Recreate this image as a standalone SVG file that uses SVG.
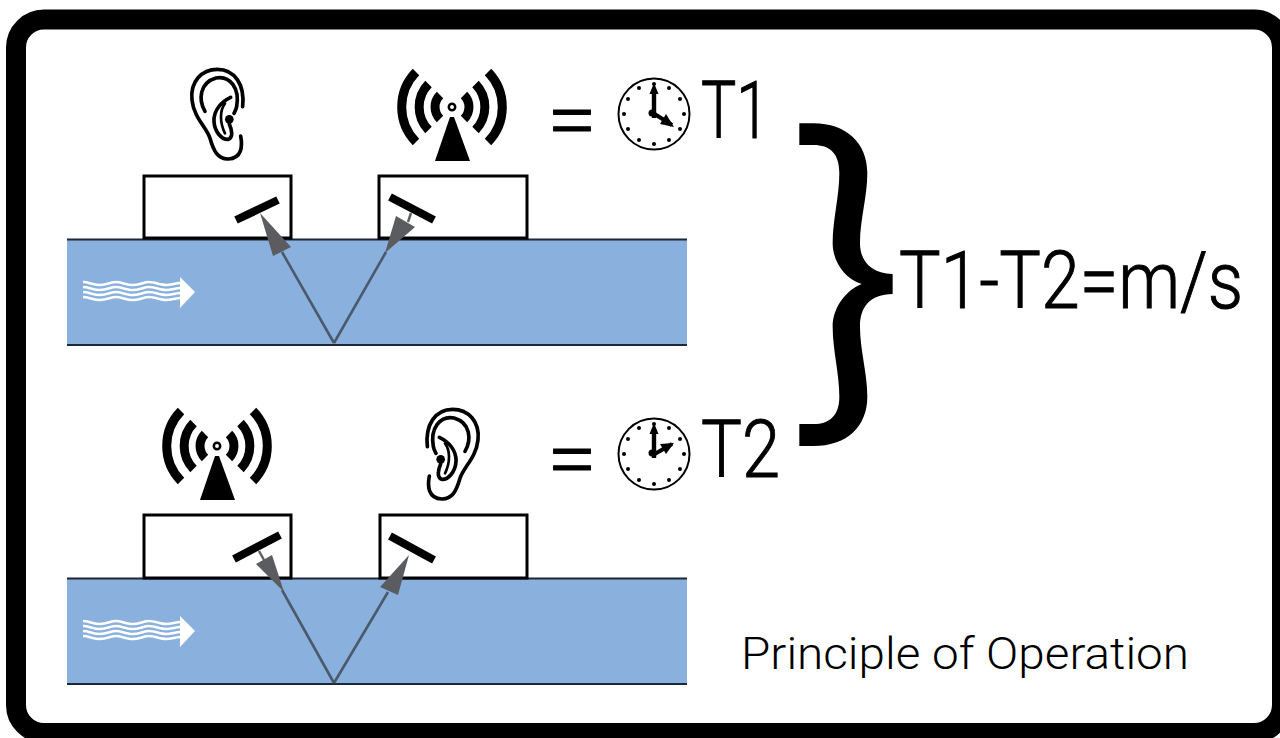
<svg xmlns="http://www.w3.org/2000/svg" width="1280" height="738" viewBox="0 0 1280 738">
<style>
.t{font-family:"Roboto","Liberation Sans",sans-serif;font-weight:300;fill:#000}
.big{stroke:#000;stroke-width:1}
.water{fill:#8ab1de}
.edge{stroke:#1d2735;stroke-width:2;fill:none}
.box{fill:#fff;stroke:#000;stroke-width:3}
.bar{stroke:#000;stroke-width:8;fill:none}
.shaft{stroke:#4a5a6c;stroke-width:2.600;fill:none}
.thin{stroke:#5d6064;stroke-width:2.500;fill:none}
.head{fill:#5a5c60}
</style>
<defs>
<g id="ear" fill="none" stroke="#000" stroke-width="11" stroke-linecap="round">
<path d="M332 258C338 290 335 325 295 327C262 328 250 300 240 265C230 232 192 205 186 150C180 95 215 58 262 58C315 58 345 105 338 170"/>
<path d="M225 184C205 150 208 98 258 84C300 76 330 115 320 170C318 180 314 186 312 190"/>
<path d="M302 142C275 155 250 180 252 215C254 245 275 270 295 268C310 262 306 240 298 222"/>
<path d="M285 160C270 180 268 215 285 250" stroke-width="8"/>
<circle cx="298" cy="208" r="13" fill="#000" stroke="none"/>
</g>
<g id="radio">
<g fill="none" stroke="#000" stroke-width="9">
<path d="M-36 -35A50 50 0 0 0 -36 35M36 -35A50 50 0 0 1 36 35"/>
<path d="M-23.500 -23A33 33 0 0 0 -23.500 23M23.500 -23A33 33 0 0 1 23.500 23"/>
<path d="M-12 -12A17 17 0 0 0 -12 12M12 -12A17 17 0 0 1 12 12"/>
</g>
<circle r="3.200" fill="#fff" stroke="#000" stroke-width="2.500"/>
<polygon points="-2,10 2,10 18,54 -17,54" fill="#000"/>
</g>
<g id="dial">
<circle r="35.500" fill="#fff" stroke="#000" stroke-width="2"/>
<g fill="#000">
<circle cx="0" cy="-30" r="2"/><circle cx="15" cy="-26" r="2"/><circle cx="26" cy="-15" r="2"/><circle cx="30" cy="0" r="2"/><circle cx="26" cy="15" r="2"/><circle cx="15" cy="26" r="2"/><circle cx="0" cy="30" r="2"/><circle cx="-15" cy="26" r="2"/><circle cx="-26" cy="15" r="2"/><circle cx="-30" cy="0" r="2"/><circle cx="-26" cy="-15" r="2"/><circle cx="-15" cy="-26" r="2"/>
<circle cx="-2" cy="-1" r="3.500"/>
<rect x="-2.200" y="-24" width="4.400" height="28"/>
<polygon points="0,-31 -4.500,-20 4.500,-20"/>
</g>
</g>
<g id="flow">
<g fill="none" stroke="#fff" stroke-width="2.600">
<path d="M83 282c6 0 10 3 17 3s11-3 16-3 11 3 17 3 11-3 16-3 12 3 17 3 10-2 14-2"/>
<path d="M83 287c6 0 10 3 17 3s11-3 16-3 11 3 17 3 11-3 16-3 12 3 17 3 10-2 14-2"/>
<path d="M83 292c6 0 10 3 17 3s11-3 16-3 11 3 17 3 11-3 16-3 12 3 17 3 10-2 14-2"/>
<path d="M83 297c6 0 10 3 17 3s11-3 16-3 11 3 17 3 11-3 16-3 12 3 17 3 10-2 14-2"/>
</g>
<polygon points="180,277 195,292 180,308" fill="#fff"/>
</g>
</defs>
<rect width="1280" height="738" fill="#fff"/>
<rect id="frame" x="16" y="19.500" width="1266" height="713.500" rx="28" fill="#fff" stroke="#000" stroke-width="20"/>

<g id="pipe-top">
<rect class="water" x="67" y="240" width="620" height="105"/>
<path class="edge" d="M67 239.500H687M67 345H687"/>
<use href="#flow"/>
</g>
<g id="pipe-bottom">
<rect class="water" x="67" y="579" width="620" height="105"/>
<path class="edge" d="M67 578.500H687M67 684H687"/>
<use href="#flow" y="339"/>
</g>

<g id="sensor-top-left"><rect class="box" x="144" y="176" width="147" height="62"/><path class="bar" d="M236 220L278 200"/></g>
<g id="sensor-top-right"><rect class="box" x="379" y="176" width="148" height="62"/><path class="bar" d="M390 197L434 220"/></g>
<g id="sensor-bottom-left"><rect class="box" x="144" y="515" width="147" height="63"/><path class="bar" d="M234 559L280 535"/></g>
<g id="sensor-bottom-right"><rect class="box" x="380" y="515" width="147" height="63"/><path class="bar" d="M390 536L434 560"/></g>

<g id="connectors">
<path class="shaft" d="M334 343L282 252"/>
<polygon class="head" points="260,213 291,247 273,256"/>
<path class="shaft" d="M334 343L386 252"/>
<polygon class="head" points="385,253 396,216 415,227"/>
<path class="thin" d="M408 222L411 213"/>
<path class="shaft" d="M334 683L282 590"/>
<polygon class="head" points="284,592 256,564 272,555"/>
<path class="thin" d="M264 560L259 551"/>
<path class="shaft" d="M334 683L388 592"/>
<polygon class="head" points="409,555 380,587 398,595"/>
</g>

<g id="ear-top"><use href="#ear" transform="translate(130 50) scale(.3333)"/></g>
<g id="ear-bottom"><use href="#ear" transform="translate(540 390) scale(-.3333 .3333)"/></g>
<g id="transmitter-top"><use href="#radio" x="452" y="107"/></g>
<g id="transmitter-bottom"><use href="#radio" x="217" y="446"/></g>

<g id="time-t1">
<text class="t big" x="547" y="148" font-size="84" textLength="50" lengthAdjust="spacingAndGlyphs">=</text>
<use href="#dial" x="654" y="114"/>
<path d="M653 113L672 125" stroke="#000" stroke-width="4"/>
<polygon points="674,127 660,124 666,114" fill="#000"/>
<text class="t big" x="701" y="138" font-size="80" textLength="68" lengthAdjust="spacingAndGlyphs">T1</text>
</g>
<g id="time-t2">
<text class="t big" x="547" y="487" font-size="84" textLength="50" lengthAdjust="spacingAndGlyphs">=</text>
<use href="#dial" x="654" y="454"/>
<path d="M653 455L672 444" stroke="#000" stroke-width="4"/>
<polygon points="674,443 666,454 660,444" fill="#000"/>
<text class="t big" x="701" y="477" font-size="80" textLength="79" lengthAdjust="spacingAndGlyphs">T2</text>
</g>

<g id="brace"><path transform="translate(780 110) scale(.3333)" fill="#000" d="M58 40H100C200 40 262 100 262 190C262 260 240 330 240 400C240 450 270 490 338 492V552C270 553 240 590 240 650C240 720 262 790 262 860C262 950 200 1008 100 1008H58V942H100C150 942 178 915 178 860C178 790 158 720 158 650C158 600 190 545 245 522C190 505 158 450 158 400C158 330 178 260 178 190C178 130 150 105 100 105H58Z"/></g>

<g id="result"><text class="t big" transform="translate(899 308) scale(.872 1)" font-size="80">T1-T2=m/s</text></g>
<g id="caption"><text class="t" x="741" y="669" font-size="45" textLength="448" lengthAdjust="spacingAndGlyphs">Principle of Operation</text></g>
</svg>
